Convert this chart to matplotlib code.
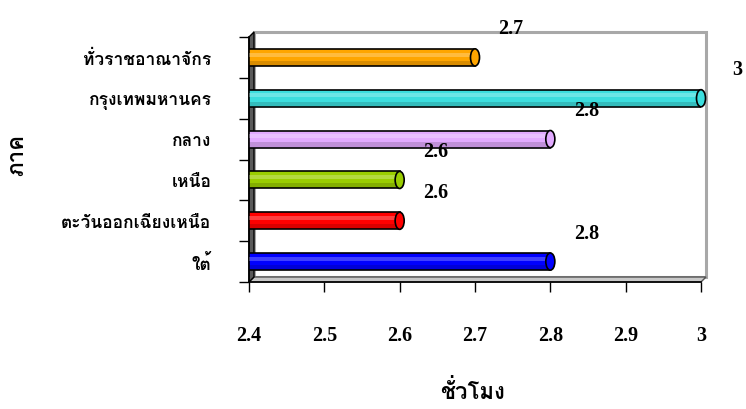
import matplotlib
matplotlib.use("Agg")
import matplotlib.pyplot as plt
from matplotlib import font_manager
from matplotlib.patches import Polygon, Rectangle, Ellipse
from matplotlib.transforms import ScaledTranslation
from fontTools.ttLib import TTFont

regions = ["ทั่วราชอาณาจักร", "กรุงเทพมหานคร", "กลาง", "เหนือ", "ตะวันออกเฉียงเหนือ", "ใต้"]
hours = [2.7, 3.0, 2.8, 2.6, 2.6, 2.8]
value_labels = ["2.7", "3", "2.8", "2.6", "2.6", "2.8"]
colors = ["#FFA500", "#3CDEDE", "#E2AAFF", "#9ACD00", "#FF0000", "#0000FF"]
xticks = [2.4, 2.5, 2.6, 2.7, 2.8, 2.9, 3.0]
xtick_labels = ["2.4", "2.5", "2.6", "2.7", "2.8", "2.9", "3"]


def thai_families():
    found = []
    for f in font_manager.fontManager.ttflist:
        try:
            tt = TTFont(f.fname, fontNumber=0, lazy=True)
            cmap = tt.getBestCmap()
            if cmap and 0x0E01 in cmap and f.name not in found:
                found.append(f.name)
        except Exception:
            pass
    return found


thai = thai_families()
fam = ["Liberation Serif"] + thai + ["DejaVu Sans"]
plt.rcParams["font.family"] = fam

fig = plt.figure(figsize=(7.46, 4.10), dpi=100)
ax = fig.add_axes([249 / 746, 1 - 283 / 410, 452 / 746, 245 / 410])

n = len(regions)
ypos = list(range(n))[::-1]
ax.set_xlim(2.4, 3.0)
ax.set_ylim(-0.5, n - 0.5)

# pseudo 3D walls, depth of a few pixels
d = ScaledTranslation(5 / 100, 5 / 100, fig.dpi_scale_trans)
sh = ax.transData + d
wall = Rectangle((2.4, -0.5), 0.6, n, transform=sh, facecolor="white",
                 edgecolor="#a8a8a8", lw=2.2, zorder=0, clip_on=False)
ax.add_patch(wall)
floor = [ax.transData.transform((2.4, -0.5)), ax.transData.transform((3.0, -0.5)),
         sh.transform((3.0, -0.5)), sh.transform((2.4, -0.5))]
ax.add_patch(Polygon(floor, closed=True, transform=None, facecolor="#c8c8c8",
                     edgecolor="#555555", lw=1, zorder=1, clip_on=False))
left = [ax.transData.transform((2.4, -0.5)), ax.transData.transform((2.4, n - 0.5)),
        sh.transform((2.4, n - 0.5)), sh.transform((2.4, -0.5))]
ax.add_patch(Polygon(left, closed=True, transform=None, facecolor="#5a5a5a",
                     edgecolor="black", lw=1, zorder=1, clip_on=False))

bh = 0.42
for y, v, c, lab in zip(ypos, hours, colors, value_labels):
    ax.barh(y, v - 2.4, left=2.4, height=bh, color=c, edgecolor="black", lw=1.2, zorder=3)
    ax.barh(y + 0.07, v - 2.4, left=2.4, height=0.1, color="white", alpha=0.25, lw=0, zorder=4)
    ax.barh(y - 0.14, v - 2.4, left=2.4, height=0.12, color="black", alpha=0.15, lw=0, zorder=4)
    ax.add_patch(Ellipse((v, y), 0.012, bh, facecolor=c, edgecolor="black", lw=1.2,
                         zorder=5, clip_on=False))
    ax.annotate(lab, xy=(v, y), xytext=(36, 29), textcoords="offset pixels",
                ha="center", va="center", fontsize=14.5, fontweight="bold",
                annotation_clip=False)

for s in ax.spines.values():
    s.set_visible(False)
ax.plot([2.4, 2.4], [-0.5, n - 0.5], color="black", lw=1.2, zorder=2, clip_on=False)
ax.plot([2.4, 3.0], [-0.5, -0.5], color="black", lw=1.2, zorder=2, clip_on=False)

ax.set_xticks(xticks)
ax.set_xticklabels(xtick_labels, fontsize=14.5, fontweight="bold")
ax.tick_params(axis="x", length=7, width=1, pad=24)

ax.set_yticks(ypos)
ax.set_yticklabels(regions, fontsize=12.5, fontweight="bold")
ax.set_yticks([i - 0.5 for i in range(n + 1)], minor=True)
ax.tick_params(axis="y", which="major", length=0, pad=27)
ax.tick_params(axis="y", which="minor", length=7, width=1)

fig.text(18 / 746, 1 - 155 / 410, "ภาค", rotation=90, ha="center", va="center",
         fontsize=16, fontweight="bold")
fig.text(473 / 746, 1 - 392 / 410, "ชั่วโมง", ha="center", va="center",
         fontsize=16, fontweight="bold")

fig.savefig("out.png", dpi=100)
